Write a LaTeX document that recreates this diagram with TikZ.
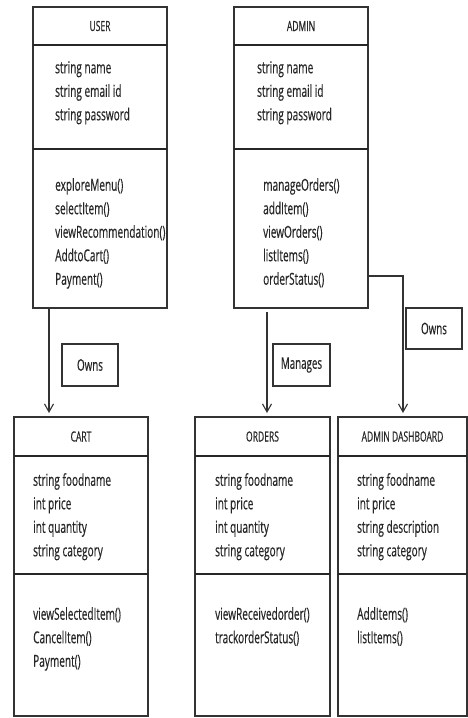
\documentclass[tikz,border=0pt]{standalone}
\usepackage{fontspec}
\setmainfont{Open Sans}[FakeStretch=0.61,FakeBold=0.4]
\usetikzlibrary{positioning,arrows.meta}

\begin{document}
\begin{tikzpicture}[x=1pt,y=-1pt,
  box/.style={draw=black!80, line width=1.1pt, inner sep=0pt, outer sep=0pt, anchor=north west, minimum width=134pt},
  head/.style={box, font=\fontsize{14}{14}\selectfont, text=black!85},
  member/.style={align=left, inner sep=0pt, font=\fontsize{16.5}{23.5}\selectfont, text=black!85},
  divider/.style={draw=black!85, line width=2.2pt},
  assoc/.style={draw=black!80, line width=1.1pt, -{Straight Barb[length=8pt,width=9pt]}},
  tag/.style={draw=black!80, line width=1.3pt, inner sep=0pt, minimum height=42pt, font=\fontsize{16}{16}\selectfont, text=black!85}]
\useasboundingbox (0,0) rectangle (468,718);

% USER
\node[head, minimum height=38pt] (user) at (33,7) {USER};
\node[box, minimum height=104pt] (userattr) at (user.south west) {};
\node[box, minimum height=159pt] (userops) at (userattr.south west) {};
\node[member, below right=16pt and 22pt of userattr.north west] (userA) {string name\\string email id\\string password};
\node[member, below right=29pt and 22pt of userops.north west] (userM) {exploreMenu()\\selectItem()\\viewRecommendation()\\AddtoCart()\\Payment()};

% ADMIN
\node[head, minimum height=38pt] (admin) at (234,7) {ADMIN};
\node[box, minimum height=104pt] (adminattr) at (admin.south west) {};
\node[box, minimum height=159pt] (adminops) at (adminattr.south west) {};
\node[member, below right=16pt and 23pt of adminattr.north west] (adminA) {string name\\string email id\\string password};
\node[member, below right=29pt and 29pt of adminops.north west] (adminM) {manageOrders()\\addItem()\\viewOrders()\\listItems()\\orderStatus()};

% CART
\node[head, minimum height=39pt] (cart) at (14,417) {CART};
\node[box, minimum height=118pt] (cartattr) at (cart.south west) {};
\node[box, minimum height=142pt] (cartops) at (cartattr.south west) {};
\node[member, below right=17pt and 19pt of cartattr.north west] (cartA) {string foodname\\int price\\int quantity\\string category};
\node[member, below right=33pt and 19pt of cartops.north west] (cartM) {viewSelectedItem()\\CancelItem()\\Payment()};

% ORDERS
\node[head, minimum height=39pt, minimum width=135pt] (orders) at (195,417) {ORDERS};
\node[box, minimum height=118pt, minimum width=135pt] (ordersattr) at (orders.south west) {};
\node[box, minimum height=142pt, minimum width=135pt] (ordersops) at (ordersattr.south west) {};
\node[member, below right=17pt and 20pt of ordersattr.north west] (ordersA) {string foodname\\int price\\int quantity\\string category};
\node[member, below right=33pt and 20pt of ordersops.north west] (ordersM) {viewReceivedorder()\\trackorderStatus()};

% ADMIN DASHBOARD
\node[head, minimum height=39pt, minimum width=129pt] (dash) at (338,417) {ADMIN DASHBOARD};
\node[box, minimum height=118pt, minimum width=129pt] (dashattr) at (dash.south west) {};
\node[box, minimum height=142pt, minimum width=129pt] (dashops) at (dashattr.south west) {};
\node[member, below right=17pt and 19pt of dashattr.north west] (dashA) {string foodname\\int price\\string description\\string category};
\node[member, below right=33pt and 19pt of dashops.north west] (dashM) {AddItems()\\listItems()};

\foreach \cls in {user,admin,cart,orders,dash}{
  \draw[divider] (\cls attr.north west) -- (\cls attr.north east);
  \draw[divider] (\cls ops.north west) -- (\cls ops.north east);
}

% labels
\node[tag, minimum width=56pt] (own1) at (90,365) {Owns};
\node[tag, minimum width=57pt] (manages) at (301.5,365) {Manages};
\node[tag, minimum width=56pt, minimum height=41pt] (own2) at (434,328.5) {Owns};

% associations
\draw[assoc, shorten >=4pt] ([xshift=16pt]userops.south west) -- ([xshift=35pt]cart.north west);
\draw[assoc, shorten <=4pt, shorten >=4pt] ([xshift=33pt]adminops.south west) -- ([xshift=72pt]orders.north west);
\draw[assoc, shorten >=4pt] ([yshift=32pt]adminops.south east) -| ([xshift=65pt]dash.north west);
\end{tikzpicture}
\end{document}
